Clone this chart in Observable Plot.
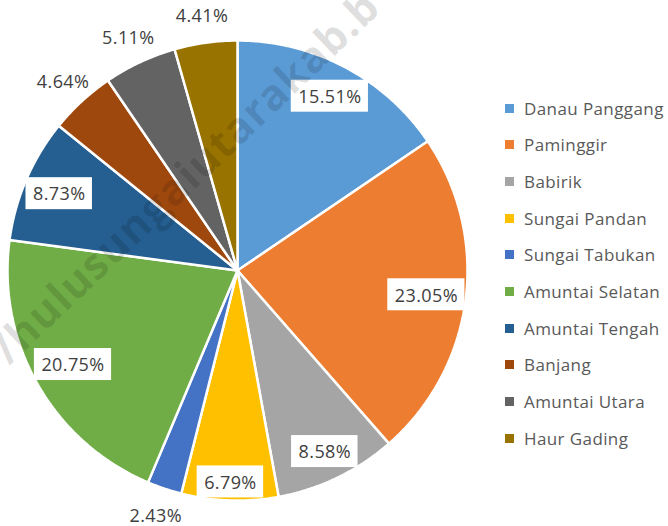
<!DOCTYPE html>
<html><head><meta charset="utf-8">
<script src="https://cdn.jsdelivr.net/npm/d3@7"></script>
<script src="https://cdn.jsdelivr.net/npm/@observablehq/plot@0.6"></script>
<style>
body{margin:0;background:#fff;}
#wrap{position:relative;width:668px;height:526px;overflow:hidden;font-family:"Open Sans",sans-serif;}
#wrap svg{position:absolute;left:0;top:0;}
.leg{position:absolute;left:505px;display:flex;align-items:center;height:20px;color:#595959;font-size:17px;letter-spacing:0.4px;white-space:nowrap;}
.leg .sw{width:9px;height:9px;margin-right:10px;flex:none;}
#wm{position:absolute;left:0;top:0;pointer-events:none;}
</style></head><body><div id="wrap"></div>
<script>
const categories = ["Danau Panggang","Paminggir","Babirik","Sungai Pandan","Sungai Tabukan","Amuntai Selatan","Amuntai Tengah","Banjang","Amuntai Utara","Haur Gading"];
const values = [15.51, 23.05, 8.58, 6.79, 2.43, 20.75, 8.73, 4.64, 5.11, 4.41];
const colors = ["#5B9BD5","#ED7D31","#A5A5A5","#FFC000","#4472C4","#70AD47","#255E91","#9E480E","#636363","#997300"];
const labels = values.map(v => v.toFixed(2) + "%");

const W = 668, H = 526, R = 230; // px per unit
const FS = 18, LS = 0.4;
const total = d3.sum(values);
let acc = 0;
const slices = categories.map((c, i) => {
  const a0 = acc / total * 2 * Math.PI; acc += values[i];
  const a1 = acc / total * 2 * Math.PI;
  return {c, i, a0, a1, mid: (a0 + a1) / 2, v: values[i], label: labels[i]};
});
const pts = [];
for (const s of slices) {
  pts.push({c: s.c, x: 0, y: 0});
  const n = Math.max(2, Math.ceil((s.a1 - s.a0) / (Math.PI / 360)));
  for (let k = 0; k <= n; k++) {
    const a = s.a0 + (s.a1 - s.a0) * k / n;
    pts.push({c: s.c, x: Math.sin(a), y: Math.cos(a)});
  }
  pts.push({c: s.c, x: 0, y: 0});
}
const ctx = document.createElement("canvas").getContext("2d");
ctx.font = FS + "px 'Open Sans'";
// inside labels: box pushed out along the mid-angle until its farthest corner meets the rim
const inside = slices.filter(s => s.v >= 6).map(s => {
  const wpx = ctx.measureText(s.label).width + s.label.length * LS + 14;
  const hpx = 32;
  const ux = Math.sin(s.mid), uy = Math.cos(s.mid);
  let lo = 0, hi = R;
  for (let k = 0; k < 40; k++) {
    const d = (lo + hi) / 2;
    let m = 0;
    for (const sx of [-1, 1]) for (const sy of [-1, 1]) {
      m = Math.max(m, Math.hypot(d * ux + sx * wpx / 2, d * uy + sy * hpx / 2));
    }
    if (m <= R + 1) lo = d; else hi = d;
  }
  const x = lo * ux / R, y = lo * uy / R;
  const w = wpx / R, h = hpx / R;
  return {...s, x, y, x1: x - w / 2, x2: x + w / 2, y1: y - h / 2, y2: y + h / 2};
});
const outside = slices.filter(s => s.v < 6).map(s => {
  const r = 1.12;
  return {...s, x: r * Math.sin(s.mid), y: r * Math.cos(s.mid)};
});

const chart = Plot.plot({
  width: W, height: H,
  marginLeft: 7, marginRight: W - 467, marginTop: 40, marginBottom: 26,
  x: {domain: [-1, 1], axis: null},
  y: {domain: [-1, 1], axis: null},
  color: {domain: categories, range: colors},
  style: {fontFamily: "'Open Sans', sans-serif", background: "white"},
  marks: [
    Plot.line(pts, {x: "x", y: "y", z: "c", fill: "c", stroke: "white", strokeWidth: 2.5, strokeLinejoin: "miter", curve: "linear"}),
    Plot.rect(inside, {x1: "x1", x2: "x2", y1: "y1", y2: "y2", fill: "white"}),
    Plot.text(inside, {x: "x", y: "y", text: "label", fill: "#404040", fontSize: FS, dy: 1}),
    Plot.text(outside, {x: "x", y: "y", text: "label", fill: "#404040", fontSize: FS, dy: 1})
  ]
});
chart.querySelectorAll("text").forEach(t => t.style.letterSpacing = LS + "px");
const wrap = document.getElementById("wrap");
wrap.appendChild(chart);

// legend
categories.forEach((c, i) => {
  const d = document.createElement("div");
  d.className = "leg";
  d.style.top = (98 + i * 36.67) + "px";
  d.innerHTML = `<span class="sw" style="background:${colors[i]}"></span><span>${c}</span>`;
  wrap.appendChild(d);
});

// watermark
const ns = "http://www.w3.org/2000/svg";
const wm = document.createElementNS(ns, "svg");
wm.setAttribute("id", "wm"); wm.setAttribute("width", W); wm.setAttribute("height", H);
const t = document.createElementNS(ns, "text");
t.setAttribute("transform", "translate(-14,388) rotate(-43.6)");
t.setAttribute("font-family", "'Open Sans', sans-serif");
t.setAttribute("font-weight", "bold");
t.setAttribute("font-size", "43");
t.setAttribute("letter-spacing", "1");
t.setAttribute("fill", "#000");
t.setAttribute("fill-opacity", "0.13");
t.textContent = "://hulusungaiutarakab.b";
wm.appendChild(t);
wrap.appendChild(wm);
</script></body></html>
